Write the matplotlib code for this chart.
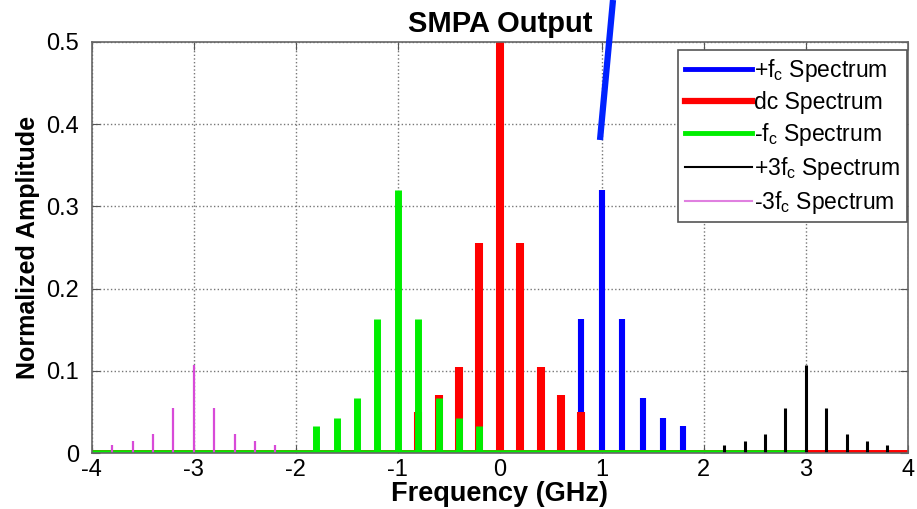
import matplotlib.pyplot as plt
from matplotlib.lines import Line2D

plt.rcParams['font.family'] = ['Liberation Sans', 'DejaVu Sans']
plt.rcParams['mathtext.default'] = 'regular'
plt.rcParams['axes.unicode_minus'] = False

# spectral lines (GHz, normalized amplitude)
pos_fc_freq = [0.2, 0.4, 0.6, 0.8, 1.0, 1.2, 1.4, 1.6, 1.8]
pos_fc_amp = [0.033, 0.043, 0.067, 0.163, 0.32, 0.163, 0.067, 0.043, 0.033]

dc_freq = [-0.8, -0.6, -0.4, -0.2, 0.0, 0.2, 0.4, 0.6, 0.8]
dc_amp = [0.05, 0.07, 0.105, 0.255, 0.5, 0.255, 0.105, 0.07, 0.05]

neg_fc_freq = [-1.8, -1.6, -1.4, -1.2, -1.0, -0.8, -0.6, -0.4, -0.2]
neg_fc_amp = [0.033, 0.043, 0.067, 0.163, 0.32, 0.163, 0.067, 0.043, 0.033]

pos_3fc_freq = [2.2, 2.4, 2.6, 2.8, 3.0, 3.2, 3.4, 3.6, 3.8]
pos_3fc_amp = [0.01, 0.015, 0.023, 0.055, 0.107, 0.055, 0.023, 0.015, 0.01]

neg_3fc_freq = [-3.8, -3.6, -3.4, -3.2, -3.0, -2.8, -2.6, -2.4, -2.2]
neg_3fc_amp = [0.01, 0.015, 0.023, 0.055, 0.107, 0.055, 0.023, 0.015, 0.01]

# frequency span of each trace's zero floor
dc_span = (-4, 4)
neg_fc_span = (-4, 3)

labels = ['+f$_c$ Spectrum', 'dc Spectrum', '-f$_c$ Spectrum',
          '+3f$_c$ Spectrum', '-3f$_c$ Spectrum']

fig = plt.figure(figsize=(9.17, 5.09), dpi=100)
ax = fig.add_axes([0.100, 0.110, 0.890, 0.8075])

blue, red, green, violet = '#0000ff', '#ff0000', '#00ee00', '#d84ad8'

ax.vlines(pos_fc_freq, 0, pos_fc_amp, color=blue, lw=4.4)
ax.hlines(0, *dc_span, color=red, lw=5.0)
ax.vlines(dc_freq, 0, dc_amp, color=red, lw=5.8)
ax.hlines(0, *neg_fc_span, color=green, lw=4.0)
ax.vlines(neg_fc_freq, 0, neg_fc_amp, color=green, lw=5.0)
ax.vlines(pos_3fc_freq, 0, pos_3fc_amp, color='black', lw=2.2)
ax.vlines(neg_3fc_freq, 0, neg_3fc_amp, color=violet, lw=1.6)

ax.set_xlim(-4, 4)
ax.set_ylim(0, 0.5)
ax.set_xticks(range(-4, 5))
ax.set_yticks([0, 0.1, 0.2, 0.3, 0.4, 0.5])
ax.set_yticklabels(['0', '0.1', '0.2', '0.3', '0.4', '0.5'])
ax.tick_params(direction='in', top=True, right=True, labelsize=17, length=6,
               color='#555555', pad=4)
ax.tick_params(axis='y', pad=9)
ax.grid(True, linestyle=':', color='#777777', lw=1)
for s in ax.spines.values():
    s.set_color('#666666')
    s.set_linewidth(1.2)

ax.set_title('SMPA Output', fontsize=21, fontweight='bold', pad=7)
ax.set_xlabel('Frequency (GHz)', fontsize=19.5, fontweight='bold', labelpad=0)
ax.set_ylabel('Normalized Amplitude', fontsize=18, fontweight='bold', labelpad=5)

handles = [Line2D([], [], color=blue, lw=3.5),
           Line2D([], [], color=red, lw=4.5),
           Line2D([], [], color=green, lw=3.5),
           Line2D([], [], color='black', lw=1.5),
           Line2D([], [], color='#e080e0', lw=1.5)]
leg = ax.legend(handles, labels, loc='upper right', fontsize=16.5, handlelength=2.9,
                handletextpad=0.1, labelspacing=0.3, borderpad=0.3, borderaxespad=0,
                fancybox=False, framealpha=1, edgecolor='#555555',
                bbox_to_anchor=(0.999, 0.98))
leg.get_frame().set_linewidth(1.2)

# blue pointer stroke reaching past the top of the plot
fig.add_artist(Line2D([600 / 917, 613 / 917], [1 - 140 / 509, 1.0],
                      color='#0022ff', lw=4.5, solid_capstyle='butt'))

fig.savefig('out.png', dpi=100)
